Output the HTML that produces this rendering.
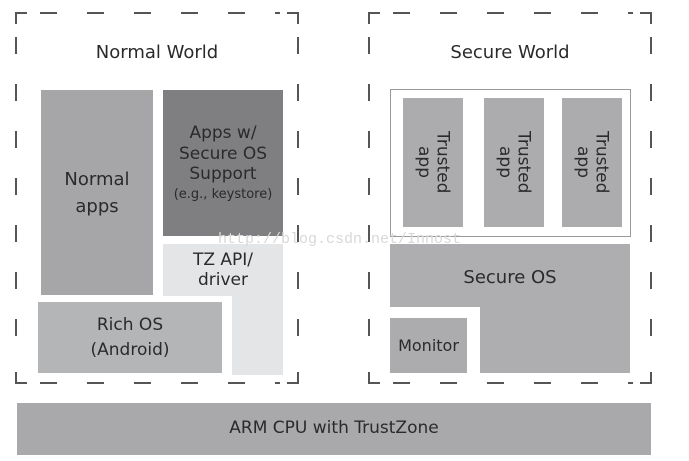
<!DOCTYPE html>
<html><head><style>
body{margin:0;width:689px;height:461px;background:#fff;position:relative;overflow:hidden;font-family:"DejaVu Sans","Liberation Sans",sans-serif;color:#2a2a2a}
.b{position:absolute;display:flex;align-items:center;justify-content:center;text-align:center;line-height:1.25}
.t{position:absolute;font-size:18px}
</style></head><body>
<svg width="689" height="461" style="position:absolute;left:0;top:0">
<g fill="none" stroke="#555" stroke-width="2">
<path d="M40,13 H280 M16,37 V365 M298,37 V365 M40,383 H280" stroke-dasharray="17 30" />
<path d="M393,13 H633 M369,37 V365 M651,37 V365 M393,383 H633" stroke-dasharray="17 30" />
<path d="M16,24 V13 H27 M287,13 H298 V24 M16,372 V383 H27 M287,383 H298 V372"/>
<path d="M369,24 V13 H380 M640,13 H651 V24 M369,372 V383 H380 M640,383 H651 V372"/>
</g>
<rect x="390.5" y="89.5" width="240" height="147" fill="none" stroke="#999" stroke-width="1"/>
<polygon points="163,244 283,244 283,375 232,375 232,296 163,296" fill="#e4e5e7"/>
<polygon points="390,244 630,244 630,373 480,373 480,307 390,307" fill="#aeaeb0"/>
</svg>
<div class="t" style="left:0;width:314px;top:42px;text-align:center">Normal World</div>
<div class="t" style="left:353px;width:314px;top:42px;text-align:center">Secure World</div>
<div class="b" style="left:41px;top:90px;width:112px;height:205px;background:#a6a6a8;font-size:18px;line-height:1.5">Normal<br>apps</div>
<div class="b" style="left:163px;top:90px;width:120px;height:146px;background:#7f7f81;font-size:17px;flex-direction:column;line-height:1.2">Apps w/<br>Secure OS<br>Support<span style="font-size:13px;margin-top:3px">(e.g., keystore)</span></div>
<div class="b" style="left:163px;top:246px;width:120px;height:48px;font-size:17px;line-height:1.2">TZ API/<br>driver</div>
<div class="b" style="left:38px;top:302px;width:184px;height:71px;background:#b4b5b7;font-size:17px;line-height:1.45">Rich OS<br>(Android)</div>
<div class="b" style="left:403px;top:98px;width:60px;height:129px;background:#acacae;font-size:17px;writing-mode:vertical-rl;line-height:1.1">Trusted<br>app</div>
<div class="b" style="left:484px;top:98px;width:60px;height:129px;background:#acacae;font-size:17px;writing-mode:vertical-rl;line-height:1.1">Trusted<br>app</div>
<div class="b" style="left:562px;top:98px;width:60px;height:129px;background:#acacae;font-size:17px;writing-mode:vertical-rl;line-height:1.1">Trusted<br>app</div>
<div class="b" style="left:390px;top:258px;width:240px;height:40px;font-size:18px">Secure OS</div>
<div class="b" style="left:390px;top:318px;width:77px;height:55px;background:#acacae;font-size:16px">Monitor</div>
<div class="b" style="left:17px;top:403px;width:634px;height:52px;background:#a9a9ab;font-size:17px">ARM CPU with TrustZone</div>
<div style="position:absolute;left:218px;top:231px;font-family:'Liberation Mono',monospace;font-size:15px;color:#d8d8d8">http://blog.csdn.net/Innost</div>
</body></html>
